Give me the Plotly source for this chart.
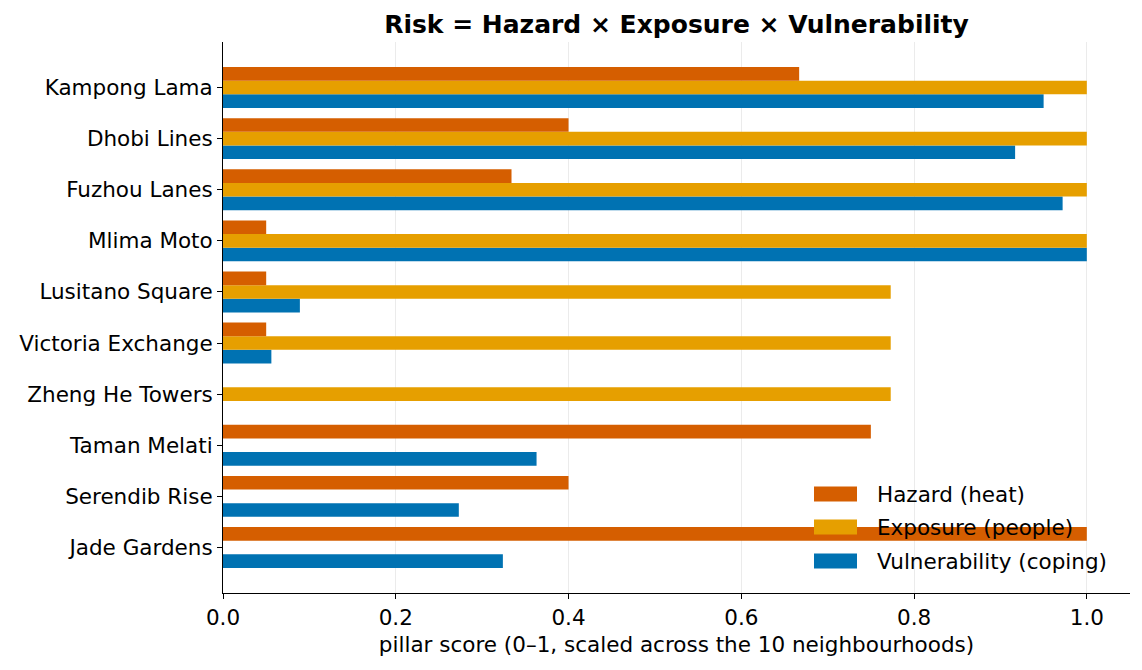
import plotly.graph_objects as go

neighbourhoods = ["Kampong Lama", "Dhobi Lines", "Fuzhou Lanes", "Mlima Moto", "Lusitano Square",
                  "Victoria Exchange", "Zheng He Towers", "Taman Melati", "Serendib Rise", "Jade Gardens"]
hazard = [0.667, 0.400, 0.334, 0.050, 0.050, 0.050, 0.0, 0.750, 0.400, 1.000]
exposure = [1.0, 1.0, 1.0, 1.0, 0.773, 0.773, 0.773, 0.0, 0.0, 0.0]
vulnerability = [0.950, 0.917, 0.972, 1.000, 0.089, 0.056, 0.0, 0.363, 0.273, 0.324]
series_names = ["Hazard (heat)", "Exposure (people)", "Vulnerability (coping)"]
series_colors = ["#D55E00", "#E69F00", "#0072B2"]

FONT = "DejaVu Sans"
fig = go.Figure()
for name, vals, col in zip(series_names[::-1], [vulnerability, exposure, hazard], series_colors[::-1]):
    fig.add_trace(go.Bar(y=neighbourhoods, x=vals, name=name, orientation="h", showlegend=False,
                         marker=dict(color=col, line=dict(width=0))))

# legend drawn manually (wide patches like the reference)
L, R, T, B = 223, 1130, 42, 593
W, H = R - L, B - T
rows_py = [494, 527, 561]
for name, col, py in zip(series_names, series_colors, rows_py):
    yc = (B - py) / H
    fig.add_shape(type="rect", xref="paper", yref="paper",
                  x0=(814 - L) / W, x1=(857 - L) / W, y0=yc - 7.5 / H, y1=yc + 7.5 / H,
                  fillcolor=col, line=dict(width=0), layer="above")
    fig.add_annotation(text=name, xref="paper", yref="paper", x=(875 - L) / W, y=yc,
                       xanchor="left", yanchor="middle", showarrow=False,
                       font=dict(size=21.5, family=FONT, color="black"))

fig.update_layout(
    width=1142, height=670,
    margin=dict(l=L, r=1142 - R, t=T, b=670 - B),
    plot_bgcolor="white", paper_bgcolor="white",
    barmode="group", bargap=0.2, bargroupgap=0,
    font=dict(family=FONT, size=21.5, color="black"),
    title=dict(text="<b>Risk = Hazard × Exposure × Vulnerability</b>", x=0.5, xref="paper",
               xanchor="center", y=1 - 24 / 670, yanchor="middle", font=dict(size=25)),
    showlegend=False,
    xaxis=dict(range=[0, 1.05], tickvals=[0, 0.2, 0.4, 0.6, 0.8, 1.0], ticktext=["0.0", "0.2", "0.4", "0.6", "0.8", "1.0"],
               showgrid=True, gridcolor="#ebebeb", gridwidth=1, zeroline=False,
               showline=True, linecolor="black", linewidth=1, ticks="outside", ticklen=5,
               tickcolor="black",
               title=dict(text="pillar score (0–1, scaled across the 10 neighbourhoods)", font=dict(size=21.5), standoff=8)),
    yaxis=dict(categoryorder="array", categoryarray=neighbourhoods[::-1], range=[-0.89, 9.89],
               showgrid=False, zeroline=False, showline=True, linecolor="black", linewidth=1,
               ticks="outside", ticklen=5, tickcolor="black"),
)
fig.write_html("out.html")
